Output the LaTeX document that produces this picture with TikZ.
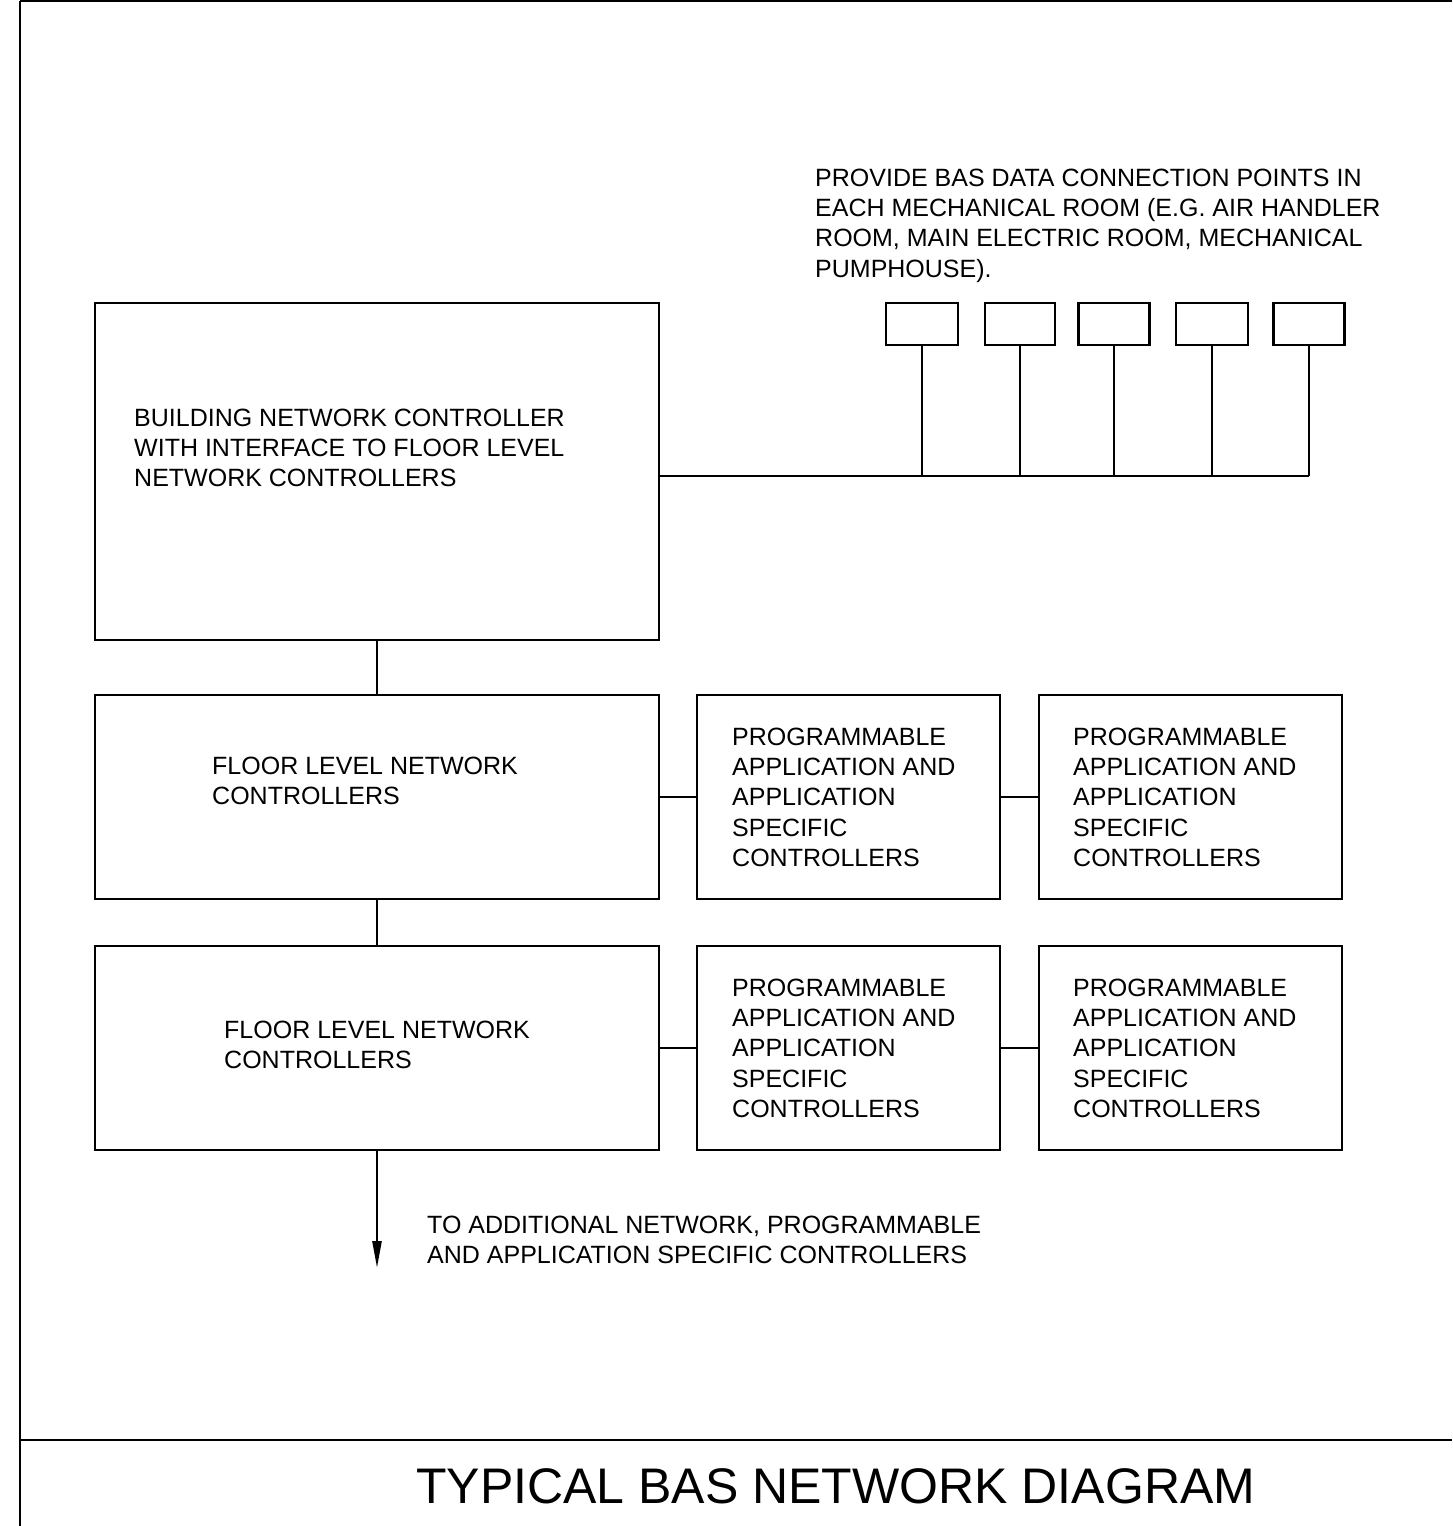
\documentclass[tikz,border=0pt]{standalone}
\usepackage{fontspec}
\setmainfont{Liberation Sans}
\usetikzlibrary{arrows.meta}
\tikzset{
  boxnode/.style={draw, line width=2.5pt, rectangle, inner sep=0pt},
  wire/.style={line width=2.5pt},
  framerule/.style={line width=2.8pt},
  bodytext/.style={anchor=base west, inner sep=0pt, align=left,
    font=\fontsize{25}{30.4}\selectfont},
  titletext/.style={anchor=base west, inner sep=0pt,
    font=\fontsize{50}{60}\selectfont}
}
\begin{document}
\begin{tikzpicture}[x=1pt,y=-1pt]
\useasboundingbox (0,0) rectangle (1452,1526);
% frame
\coordinate (ftl) at (20,0.8);
\coordinate (ftr) at (1452,0.8);
\coordinate (fbl) at (20,1526);
\coordinate (fml) at (20,1440);
\coordinate (fmr) at (1452,1440);
\draw[line width=1.8pt] (ftl) -- (ftr);
\draw[framerule] (ftl) -- (fbl);
\draw[framerule] (fml) -- (fmr);

% main boxes
\node[boxnode, minimum width=564, minimum height=337] (bnc) at (377,471.5) {};
\node[boxnode, minimum width=564, minimum height=204] (fl1) at (377,797) {};
\node[boxnode, minimum width=564, minimum height=204] (fl2) at (377,1048) {};
\node[boxnode, minimum width=303, minimum height=204] (p11) at (848.5,797) {};
\node[boxnode, minimum width=303, minimum height=204] (p12) at (1190.5,797) {};
\node[boxnode, minimum width=303, minimum height=204] (p21) at (848.5,1048) {};
\node[boxnode, minimum width=303, minimum height=204] (p22) at (1190.5,1048) {};

% small data connection boxes
\node[boxnode, minimum width=72, minimum height=42] (s1) at (922,324) {};
\node[boxnode, minimum width=70, minimum height=42] (s2) at (1020,324) {};
\node[boxnode, minimum width=71, minimum height=42] (s3) at (1114,324) {};
\node[boxnode, minimum width=72, minimum height=42] (s4) at (1212,324) {};
\node[boxnode, minimum width=71, minimum height=42] (s5) at (1309,324) {};

% bus
\coordinate (busend) at (1309,476);
\draw[wire] (bnc.east |- busend) -- (busend);
\foreach \s in {s1,s2,s3,s4,s5}{
  \draw[wire] (\s.south) -- (\s.south |- busend);
}

% vertical connectors
\draw[wire] (bnc.south) -- (fl1.north);
\draw[wire] (fl1.south) -- (fl2.north);
\coordinate (arrowend) at (377,1268);
\draw[wire, -{Triangle[length=27pt,width=9pt]}] (fl2.south) -- (arrowend);

% horizontal connectors
\draw[wire] (fl1.east) -- (p11.west);
\draw[wire] (p11.east) -- (p12.west);
\draw[wire] (fl2.east) -- (p21.west);
\draw[wire] (p21.east) -- (p22.west);

% texts (anchor = baseline of last line)
\node[bodytext] (tnote) at (815,277.2) {PROVIDE BAS DATA CONNECTION POINTS IN\\EACH MECHANICAL ROOM (E.G. AIR HANDLER\\ROOM, MAIN ELECTRIC ROOM, MECHANICAL\\PUMPHOUSE).};
\node[bodytext] (tbnc) at (134,486.8) {BUILDING NETWORK CONTROLLER\\WITH INTERFACE TO FLOOR LEVEL\\NETWORK CONTROLLERS};
\node[bodytext] (tfl1) at (212,804.4) {FLOOR LEVEL NETWORK\\CONTROLLERS};
\node[bodytext] (tfl2) at (224,1068.4) {FLOOR LEVEL NETWORK\\CONTROLLERS};
\node[bodytext] (tp11) at (732,866.6) {PROGRAMMABLE\\APPLICATION AND\\APPLICATION\\SPECIFIC\\CONTROLLERS};
\node[bodytext] (tp12) at (1073,866.6) {PROGRAMMABLE\\APPLICATION AND\\APPLICATION\\SPECIFIC\\CONTROLLERS};
\node[bodytext] (tp21) at (732,1117.6) {PROGRAMMABLE\\APPLICATION AND\\APPLICATION\\SPECIFIC\\CONTROLLERS};
\node[bodytext] (tp22) at (1073,1117.6) {PROGRAMMABLE\\APPLICATION AND\\APPLICATION\\SPECIFIC\\CONTROLLERS};
\node[bodytext] (tadd) at (427,1263.4) {TO ADDITIONAL NETWORK, PROGRAMMABLE\\AND APPLICATION SPECIFIC CONTROLLERS};
\node[titletext] (title) at (416,1503) {TYPICAL BAS NETWORK DIAGRAM};
\end{tikzpicture}
\end{document}
